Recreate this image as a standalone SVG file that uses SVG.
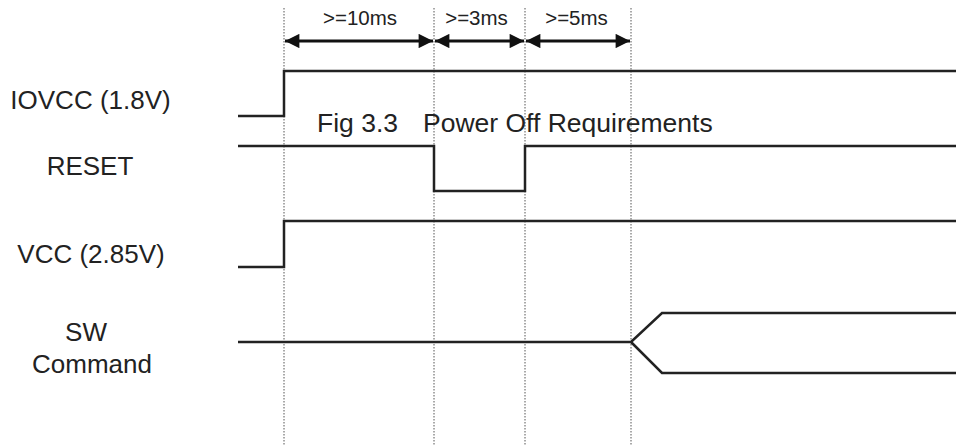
<svg xmlns="http://www.w3.org/2000/svg" width="956" height="445" viewBox="0 0 956 445">
<style>
.lbl{font-family:"Liberation Sans",Arial,sans-serif;font-size:26px;fill:#222;}
.fig{font-family:"Liberation Sans",Arial,sans-serif;font-size:26.5px;fill:#222;}
.dur{font-family:"Liberation Sans",Arial,sans-serif;font-size:20.5px;fill:#222;text-anchor:middle;}
.sig{fill:none;stroke:#222;stroke-width:2.5;stroke-linejoin:miter;}
.grid{stroke:#555;stroke-width:1;stroke-dasharray:1.5 1.5;fill:none;}
.dim{stroke:#111;stroke-width:3;fill:none;}
</style>
<defs>
<marker id="ah" viewBox="0 0 10 10" refX="10" refY="5" markerWidth="5.3" markerHeight="4.8" markerUnits="strokeWidth" orient="auto-start-reverse">
<path d="M0,0 L10,5 L0,10 z" fill="#111"/>
</marker>
</defs>
<rect width="956" height="445" fill="#fff"/>
<g id="gridlines">
<line class="grid" x1="284" y1="8" x2="284" y2="445"/>
<line class="grid" x1="434" y1="8" x2="434" y2="445"/>
<line class="grid" x1="525" y1="8" x2="525" y2="445"/>
<line class="grid" x1="631" y1="8" x2="631" y2="445"/>
</g>
<g id="labels">
<text class="lbl" x="90.5" y="108.5" text-anchor="middle">IOVCC (1.8V)</text>
<text class="lbl" x="90" y="175" text-anchor="middle">RESET</text>
<text class="lbl" x="91" y="263" text-anchor="middle">VCC (2.85V)</text>
<text class="lbl" x="86" y="341" text-anchor="middle">SW</text>
<text class="lbl" x="92" y="373" text-anchor="middle">Command</text>
<text class="fig" y="131.5"><tspan x="317">Fig 3.3</tspan><tspan x="423">Power Off Requirements</tspan></text>
</g>
<g id="signals">
<path id="iovcc" class="sig" d="M238,116 H284 V71 H956"/>
<path id="reset" class="sig" d="M238,146 H434 V191 H525 V146 H956"/>
<path id="vcc" class="sig" d="M238,267 H284 V221 H956"/>
<path id="sw" class="sig" d="M238,342 H631 L662,313 H956 M631,342 L662,373 H956"/>
</g>
<g id="connectors">
<line class="dim" x1="285" y1="41" x2="433" y2="41" marker-start="url(#ah)" marker-end="url(#ah)"/>
<line class="dim" x1="435" y1="41" x2="524" y2="41" marker-start="url(#ah)" marker-end="url(#ah)"/>
<line class="dim" x1="526" y1="41" x2="630" y2="41" marker-start="url(#ah)" marker-end="url(#ah)"/>
</g>
<g id="durations">
<text class="dur" x="360" y="25">&gt;=10ms</text>
<text class="dur" x="476.5" y="25">&gt;=3ms</text>
<text class="dur" x="576.5" y="25">&gt;=5ms</text>
</g>
</svg>
